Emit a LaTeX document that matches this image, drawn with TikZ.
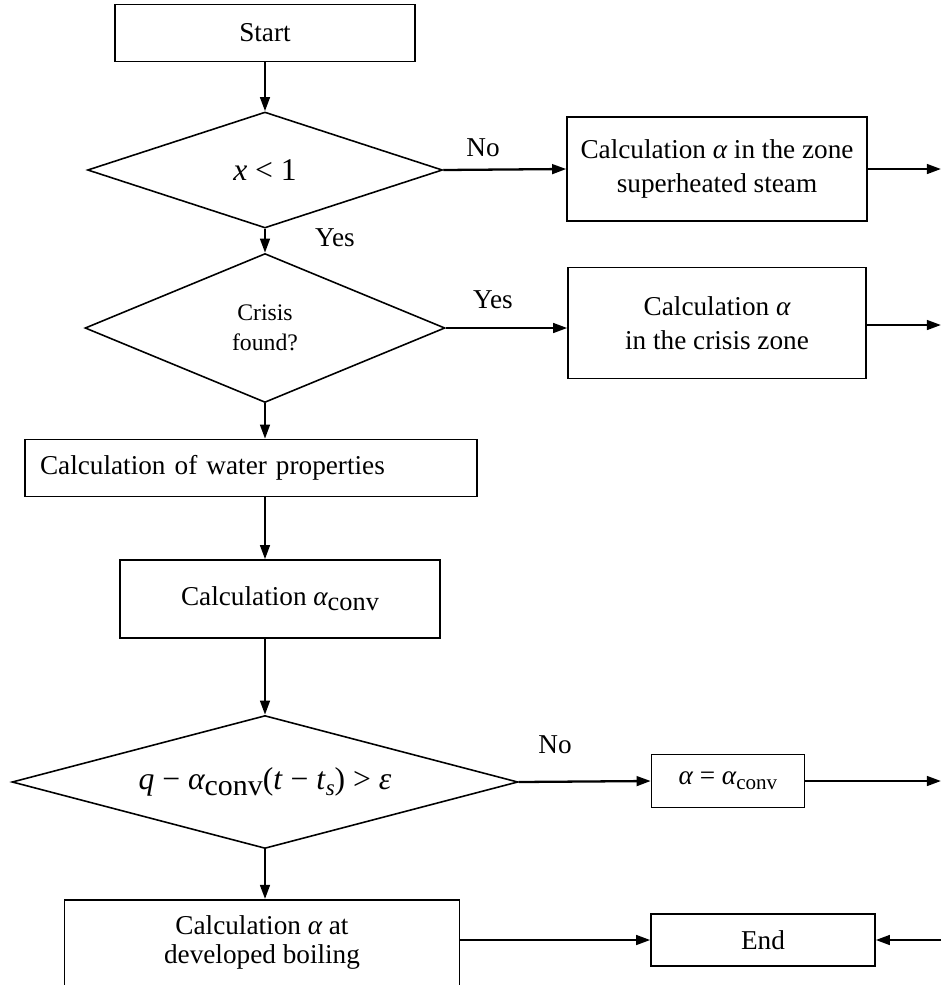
\documentclass[tikz,border=0pt]{standalone}
\usepackage{fontspec}
\setmainfont{Liberation Serif}
\usetikzlibrary{arrows.meta,shapes.geometric,positioning}

\newcommand{\al}{{\itshape α}}
\newcommand{\conv}[1]{\raisebox{-0.4ex}{\fontsize{#1}{#1}\selectfont conv}}

\begin{document}
\begin{tikzpicture}[x=0.02cm, y=-0.02cm,
    font=\fontsize{15.5}{19}\selectfont,
    box/.style={draw, line width=0.9pt, align=center, inner sep=0pt},
    decision/.style={draw, diamond, line width=0.9pt, align=center, inner sep=0pt},
    flow/.style={-{Triangle[length=8pt,width=5.5pt]}, line width=1.3pt},
    lab/.style={inner sep=1pt}]
    \useasboundingbox (0,0) rectangle (941,985);
    \clip (0,0) rectangle (941,985);

    % main column
    \node[box, minimum width=6cm, minimum height=1.14cm] (start) at (265,33) {Start};
    \node[decision, aspect=3.06, minimum width=7.1cm, minimum height=2.32cm,
      font=\fontsize{18}{22}\selectfont] (xlow) at (265,170) {\textit{x} < 1};
    \node[decision, aspect=2.42, minimum width=7.2cm, minimum height=2.98cm,
      font=\fontsize{13.5}{17}\selectfont] (crisis) at (265,328) {Crisis\\found?};
    \node[box, minimum height=1.14cm, text width=8.44cm, inner xsep=0.3cm,
      align=left] (water) at (251,468) {Calculation of water properties};
    \node[box, minimum width=6.4cm, minimum height=1.56cm] (conv) at (280,599)
      {Calculation \al\conv{15}};
    \node[decision, aspect=3.8, minimum width=10.12cm, minimum height=2.66cm,
      font=\fontsize{18}{22}\selectfont] (check) at (265,782)
      {\textit{q} − \al\conv{17}(\textit{t} − \textit{t}\raisebox{-0.4ex}{\fontsize{13}{13}\selectfont\textit{s}}) > {\itshape ε}};
    \node[box, minimum width=7.9cm, minimum height=3cm, anchor=north] (boil) at (262,899) {};
    \node[align=center, font=\fontsize{15.5}{16.5}\selectfont] (boiltxt) at (262,942)
      {Calculation \al{} at\\developed boiling};

    % right column
    \node[box, minimum width=6cm, minimum height=2.08cm] (heat) at (717,169)
      {Calculation \al{} in the zone\\superheated steam};
    \node[box, minimum width=5.96cm, minimum height=2.22cm] (zone) at (717,323)
      {Calculation \al\\in the crisis zone};
    \node[box, minimum width=3.06cm, minimum height=1.06cm] (alpha) at (728,781)
      {\al{} = \al\conv{12}};
    \node[box, minimum width=4.48cm, minimum height=1.04cm] (done) at (763,940) {End};

    % free ends at the right border
    \coordinate (exitA) at (941,169);
    \coordinate (exitB) at (941,325);
    \coordinate (exitC) at (941,781);
    \coordinate (exitD) at (941,940);

    % labels
    \node[lab] (no1) at (483,148) {No};
    \node[lab] (yes1) at (335,238) {Yes};
    \node[lab] (yes2) at (493,300) {Yes};
    \node[lab] (no2) at (555,745) {No};

    % connectors
    \draw[flow] (start) -- (xlow);
    \draw[flow] (xlow.east) -- (heat.west);
    \draw[flow] (heat.east) -- (exitA);
    \draw[flow] (xlow) -- (crisis);
    \draw[flow] (crisis.east) -- (crisis.east -| zone.west);
    \draw[flow] (zone.east |- exitB) -- (exitB);
    \draw[flow] (crisis) -- (water.north -| start);
    \draw[flow] (water.south -| start) -- (conv.north -| start);
    \draw[flow] (conv.south -| start) -- (check);
    \draw[flow] (check.east) -- (alpha.west);
    \draw[flow] (alpha.east) -- (exitC);
    \draw[flow] (check) -- (boil.north -| check);
    \draw[flow] (done.west -| boil.east) -- (done.west);
    \draw[flow] (exitD) -- (done.east);
\end{tikzpicture}
\end{document}
